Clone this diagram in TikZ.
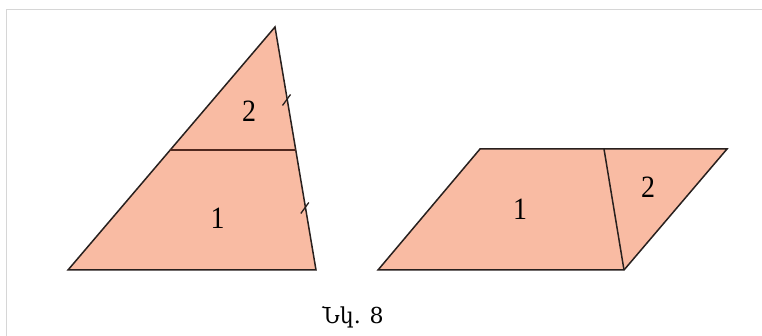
\documentclass[tikz,border=0pt]{standalone}
\usepackage{fontspec}
\setmainfont{Liberation Serif}
\newfontfamily\armfont{DejaVu Serif}
\definecolor{salmonfill}{RGB}{249,187,163}
\definecolor{edgecol}{RGB}{40,32,30}
\definecolor{midcol}{RGB}{80,40,30}
\definecolor{framecol}{RGB}{214,214,214}
\begin{document}
\begin{tikzpicture}[x=1pt,y=-1pt,
  figshape/.style={fill=salmonfill,draw=edgecol,line width=1.5pt,line join=miter},
  cutline/.style={draw=edgecol,line width=1.5pt},
  tickmark/.style={draw=edgecol,line width=1.3pt},
  lbl/.style={font=\fontsize{31}{31}\selectfont,inner sep=0pt,xscale=0.9}]
\useasboundingbox (0,0) rectangle (762,336);
\fill[white] (0,0) rectangle (762,336);
\draw[framecol,line width=1pt] (6,336) -- (6,10) -- (762,10);
% triangle
\coordinate (A) at (275,27);
\coordinate (B) at (68,270);
\coordinate (C) at (316,270);
\coordinate (M1) at (170.2,150);
\coordinate (M2) at (295.8,150);
\draw[figshape] (A) -- (B) -- (C) -- cycle;
\draw[cutline,draw=midcol,line width=2.2pt] (M1) -- (M2);
\coordinate (T1) at (286.5,100);
\coordinate (T2) at (304.8,208);
\draw[tickmark] ([shift={(-4,5.5)}]T1) -- ([shift={(4,-5.5)}]T1);
\draw[tickmark] ([shift={(-4,5.5)}]T2) -- ([shift={(4,-5.5)}]T2);
\node[lbl] (l2) at (249,111) {2};
\node[lbl] (l1) at (217.5,218) {1};
% parallelogram
\coordinate (P1) at (378,270);
\coordinate (P2) at (480,149);
\coordinate (P3) at (727,149);
\coordinate (P4) at (624,270);
\coordinate (Q) at (604,149);
\draw[figshape] (P1) -- (P2) -- (P3) -- (P4) -- cycle;
\draw[cutline] (Q) -- (P4);
\node[lbl] (r1) at (520,209) {1};
\node[lbl] (r2) at (648,187) {2};
% caption
\node[inner sep=0pt,font=\armfont\fontsize{22}{22}\selectfont] (cap) at (353,317) {Նկ.\hspace{0.4em}8};
\end{tikzpicture}
\end{document}
